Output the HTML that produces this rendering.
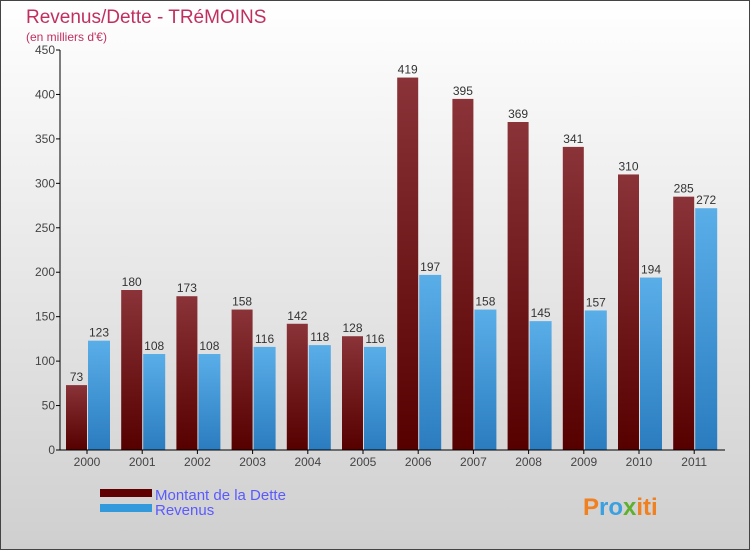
<!DOCTYPE html>
<html><head><meta charset="utf-8"><style>
body{margin:0}
svg{display:block;font-family:"Liberation Sans",sans-serif}
</style></head><body>
<svg width="750" height="550">
<defs>
<linearGradient id="bg" x1="0" y1="0" x2="0" y2="1"><stop offset="0" stop-color="#ffffff"/><stop offset="1" stop-color="#cfcfcf"/></linearGradient>
<linearGradient id="gd" x1="0" y1="0" x2="0" y2="1"><stop offset="0" stop-color="#8a3338"/><stop offset="1" stop-color="#560000"/></linearGradient>
<linearGradient id="gr" x1="0" y1="0" x2="0" y2="1"><stop offset="0" stop-color="#5aaee8"/><stop offset="1" stop-color="#2a7cbf"/></linearGradient>
</defs>
<rect x="0.5" y="0.5" width="749" height="549" fill="url(#bg)" stroke="#444"/>
<text x="26" y="23" font-size="19" fill="#c0305f">Revenus/Dette - TRéMOINS</text>
<text x="26" y="41" font-size="12" fill="#c0305f">(en milliers d'€)</text>
<g id="plot"></g>
<g>
<rect x="100" y="489" width="52" height="8" fill="#600000"/>
<text x="155" y="500" font-size="15" fill="#5a5aff">Montant de la Dette</text>
<rect x="100" y="504" width="52" height="8" fill="#3399dd"/>
<text x="155" y="515" font-size="15" fill="#5a5aff">Revenus</text>
</g>
<text x="583" y="515" font-size="24" font-weight="bold" fill="#3aa0e0"><tspan fill="#f08020">P</tspan><tspan fill="#3aa0e0">ro</tspan><tspan fill="#60b030">x</tspan><tspan fill="#f08020">iti</tspan></text>
</svg>
<script>
const categories=["2000","2001","2002","2003","2004","2005","2006","2007","2008","2009","2010","2011"];
const dette=[73,180,173,158,142,128,419,395,369,341,310,285];
const revenus=[123,108,108,116,118,116,197,158,145,157,194,272];
const yTicks=[0,50,100,150,200,250,300,350,400,450];
const NS="http://www.w3.org/2000/svg";
const g=document.getElementById('plot');
const y0=450,yTop=50,yMax=450,x0=60,step=55.2,first=87;
const y=v=>y0-(v/yMax)*(y0-yTop);
const xc=i=>first+i*step;
function mk(t,a){const e=document.createElementNS(NS,t);for(const k in a)e.setAttribute(k,a[k]);g.appendChild(e);return e;}
yTicks.forEach(t=>{
 const l=mk('line',{x1:x0-4,x2:x0,y1:y(t),y2:y(t),stroke:'#000'});
 
 
 const tx=mk('text',{x:x0-5,y:y(t)+4,'font-size':12,'text-anchor':'end',fill:'#444'});
 tx.textContent=t;
 
 
});
categories.forEach((c,i)=>{
 const cx=xc(i);
 const b1=mk('rect',{x:cx-21,y:y(dette[i]),width:21,height:y0-y(dette[i]),fill:'url(#gd)'});
 
 
 const b2=mk('rect',{x:cx+1,y:y(revenus[i]),width:22,height:y0-y(revenus[i]),fill:'url(#gr)'});
 
 
 const t1=mk('text',{x:cx-10.5,y:y(dette[i])-4,'font-size':12,'text-anchor':'middle',fill:'#333'});
 t1.textContent=dette[i];
 
 
 const t2=mk('text',{x:cx+12,y:y(revenus[i])-4,'font-size':12,'text-anchor':'middle',fill:'#333'});
 t2.textContent=revenus[i];
 
 
 const tk=mk('line',{x1:cx,x2:cx,y1:y0,y2:y0+4,stroke:'#000'});
 
 
 const xl=mk('text',{x:cx,y:y0+16,'font-size':12,'text-anchor':'middle',fill:'#444'});
 xl.textContent=c;
 
 
});
const ya=mk('line',{x1:x0,x2:x0,y1:yTop,y2:y0,stroke:'#000'});


const xa=mk('line',{x1:x0,x2:725,y1:y0,y2:y0,stroke:'#000'});


</script>
</body></html>
